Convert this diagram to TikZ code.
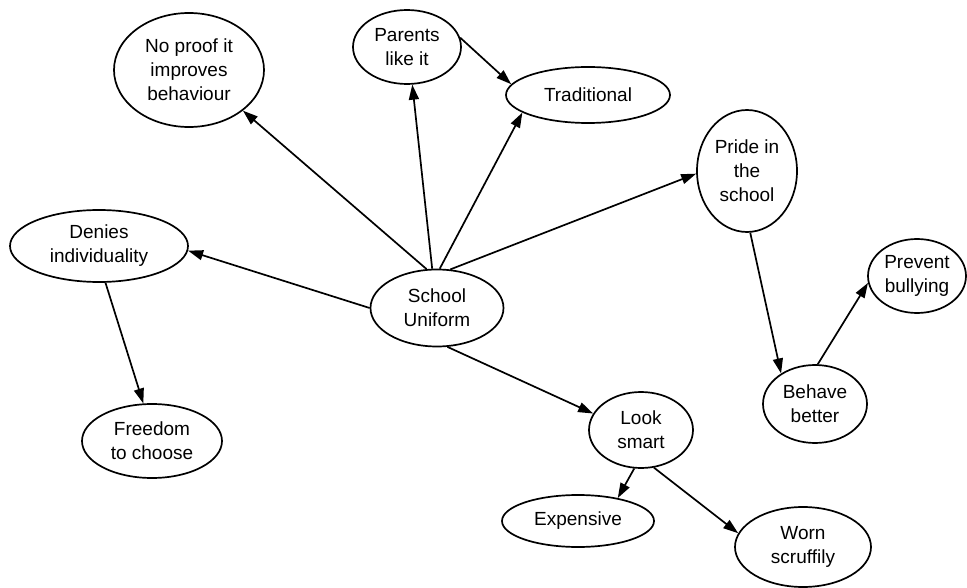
\documentclass[tikz,border=0pt]{standalone}
\usepackage{fontspec}
\setmainfont{Liberation Sans}
\usetikzlibrary{shapes.geometric,arrows.meta}
\begin{document}
\begin{tikzpicture}[x=1pt,y=-1pt,
  bub/.style={ellipse, draw, line width=1.7pt, inner sep=0pt, align=center,
    font=\fontsize{19}{24}\selectfont},
  arr/.style={line width=1.7pt, -{Triangle[length=15pt,width=10pt]}}]
\useasboundingbox (0,0) rectangle (967,588);
\node[bub, minimum width=150pt, minimum height=114pt] (np) at (189,70) {No proof it\\improves\\behaviour};
\node[bub, minimum width=108pt, minimum height=74pt] (pl) at (407,47) {Parents\\like it};
\node[bub, minimum width=164pt, minimum height=56pt] (tr) at (588,95) {Traditional};
\node[bub, minimum width=100pt, minimum height=122pt] (pr) at (747,171) {Pride in\\the\\school};
\node[bub, minimum width=178pt, minimum height=72pt] (di) at (99,246) {Denies\\individuality};
\node[bub, minimum width=133pt, minimum height=77pt] (su) at (437,308) {School\\Uniform};
\node[bub, minimum width=98pt, minimum height=74pt] (pb) at (917,276) {Prevent\\bullying};
\node[bub, minimum width=104pt, minimum height=78pt] (bb) at (815,404) {Behave\\better};
\node[bub, minimum width=140pt, minimum height=74pt] (fc) at (152,441) {Freedom\\to choose};
\node[bub, minimum width=104pt, minimum height=76pt] (ls) at (641,430) {Look\\smart};
\node[bub, minimum width=152pt, minimum height=52pt] (ex) at (578,521) {Expensive};
\node[bub, minimum width=136pt, minimum height=80pt] (ws) at (803,547) {Worn\\scruffily};

\draw[arr] (su.105) -- (np.-37);
\draw[arr] (su.97) -- (pl.-82);
\draw[arr] (su.86) -- (tr.195);
\draw[arr] (pl.10) -- (tr.172);
\draw[arr] (su.71) -- (pr.183);
\draw[arr] (su.west) -- (di.-3);
\draw[arr] (di.-80) -- (fc.103);
\draw[arr] (pr.-87) -- (bb.138);
\draw[arr] (bb.86) -- (pb.188);
\draw[arr] (su.-75) -- (ls.161);
\draw[arr] (ls.-100) -- (ex.30);
\draw[arr] (ls.-71) -- (ws.168);
\end{tikzpicture}
\end{document}
